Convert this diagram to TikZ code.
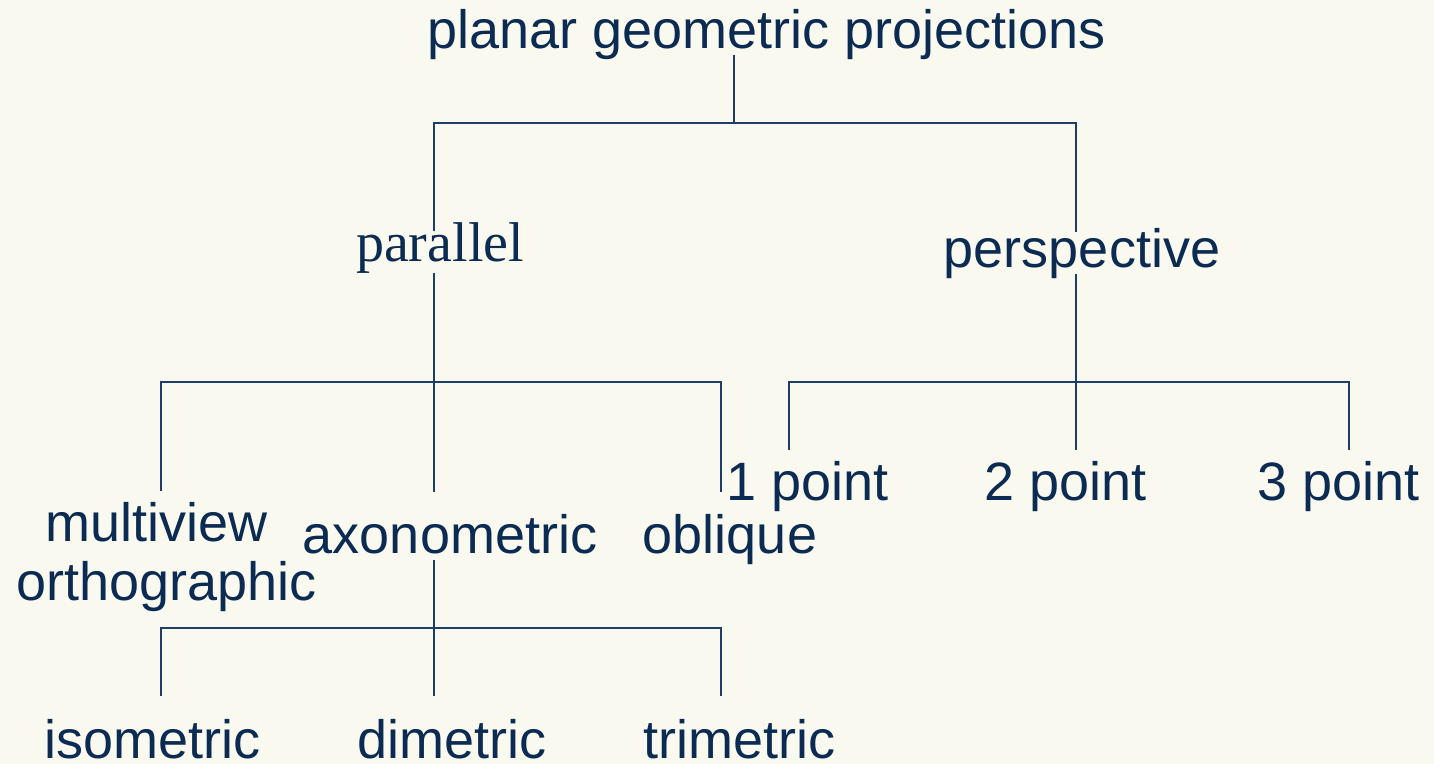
\documentclass[tikz,border=0pt]{standalone}
\usepackage{fontspec}
\setmainfont{Liberation Sans}
\newfontfamily\serifface{Liberation Serif}
\definecolor{txt}{HTML}{0B2B52}
\definecolor{ln}{HTML}{1C3E68}
\definecolor{bg}{HTML}{FAF9F0}
\begin{document}
\begin{tikzpicture}[x=1pt,y=-1pt,
  lbl/.style={anchor=base,inner sep=0pt,text=txt,font=\fontsize{54}{60}\selectfont},
  conn/.style={draw=ln,line width=2pt}]
\fill[bg] (0,0) rectangle (1434,764);
\useasboundingbox (0,0) rectangle (1434,764);
% labels
\node[lbl] (root) at (766.5,48) {planar geometric projections};
\node[lbl,font=\serifface\fontsize{56}{60}\selectfont] (par) at (440,261) {parallel};
\node[lbl] (persp) at (1082,267) {perspective};
\node[lbl] (multi) at (156.5,541) {multiview};
\node[lbl] (ortho) at (166.5,600) {orthographic};
\node[lbl] (axo) at (450,553) {axonometric};
\node[lbl] (obl) at (730,553) {oblique};
\node[lbl] (p1) at (807.5,500) {1 point};
\node[lbl] (p2) at (1066,500) {2 point};
\node[lbl] (p3) at (1338.5,500) {3 point};
\node[lbl] (iso) at (152.5,758) {isometric};
\node[lbl] (dim) at (452,758) {dimetric};
\node[lbl] (tri) at (739.5,758) {trimetric};
% connector end points
\coordinate (rootS) at (734,55);
\coordinate (parN) at (434,231);
\coordinate (parS) at (434,273);
\coordinate (perN) at (1076,232);
\coordinate (perS) at (1076,274);
\coordinate (multiN) at (161,491);
\coordinate (axoN) at (434,492);
\coordinate (oblN) at (721,492);
\coordinate (p1N) at (789,450);
\coordinate (p2N) at (1076,450);
\coordinate (p3N) at (1349,450);
\coordinate (axoS) at (434,560);
\coordinate (isoN) at (161,696);
\coordinate (dimN) at (434,696);
\coordinate (triN) at (721,696);
% level 1
\draw[conn] (rootS) -- (rootS |- 0,123);
\draw[conn] (parN) -- (parN |- 0,123) -- (perN |- 0,123) -- (perN);
% parallel children
\draw[conn] (parS) -- (axoN);
\draw[conn] (multiN) -- (multiN |- 0,382) -- (oblN |- 0,382) -- (oblN);
% perspective children
\draw[conn] (perS) -- (p2N);
\draw[conn] (p1N) -- (p1N |- 0,382) -- (p3N |- 0,382) -- (p3N);
% axonometric children
\draw[conn] (axoS) -- (dimN);
\draw[conn] (isoN) -- (isoN |- 0,628) -- (triN |- 0,628) -- (triN);
\end{tikzpicture}
\end{document}
